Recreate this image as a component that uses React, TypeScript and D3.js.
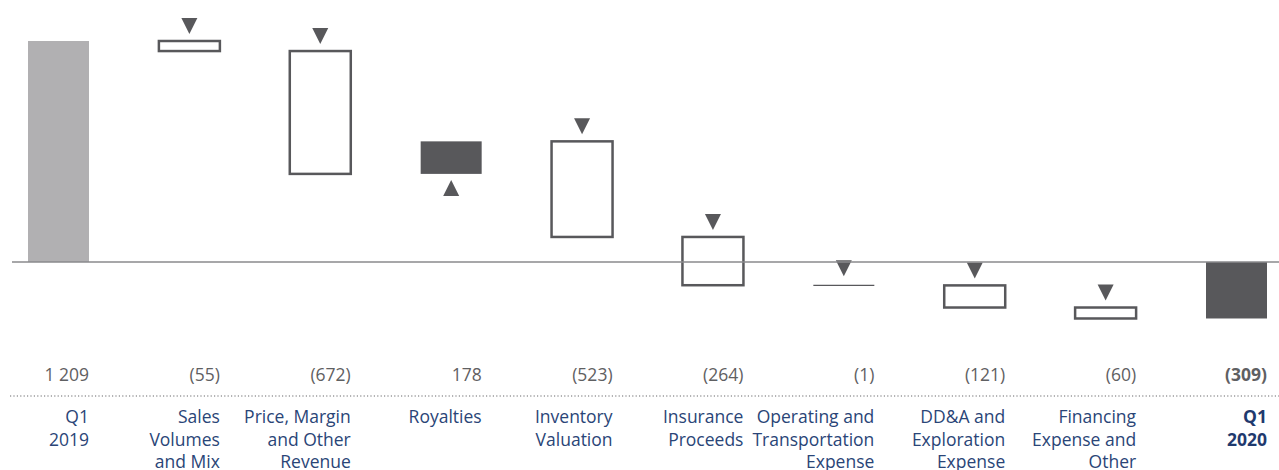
import React from "react";
import * as d3 from "d3";

const categories: string[][] = [
  ["Q1", "2019"],
  ["Sales", "Volumes", "and Mix"],
  ["Price, Margin", "and Other", "Revenue"],
  ["Royalties"],
  ["Inventory", "Valuation"],
  ["Insurance", "Proceeds"],
  ["Operating and", "Transportation", "Expense"],
  ["DD&A and", "Exploration", "Expense"],
  ["Financing", "Expense and", "Other"],
  ["Q1", "2020"],
];
const values: number[] = [1209, -55, -672, 178, -523, -264, -1, -121, -60, -309];
const valueLabels: string[] = ["1 209", "(55)", "(672)", "178", "(523)", "(264)", "(1)", "(121)", "(60)", "(309)"];
const kinds: string[] = ["start", "delta", "delta", "delta", "delta", "delta", "delta", "delta", "delta", "end"];

const W = 1279;
const H = 470;
const DARK = "#58585b";
const LIGHT = "#b1b0b2";
const BLUE = "#2a4577";
const GRAY_TXT = "#5f6062";
const FONT = "'Open Sans', 'Noto Sans', sans-serif";

export default function App() {
  const idx = categories.map((_, i) => String(i));
  const x = d3.scaleBand<string>().domain(idx).range([28, 1267]).paddingInner(0.534).paddingOuter(0);
  const y = d3.scaleLinear().domain([0, 1209]).range([262, 41]);
  const bw = x.bandwidth();

  let run = 0;
  const bars = values.map((v, i) => {
    let y0: number, y1: number;
    if (kinds[i] === "start" || kinds[i] === "end") {
      y0 = 0; y1 = v; run = v;
    } else {
      y0 = run; y1 = run + v; run = run + v;
    }
    return { i, v, y0, y1, kind: kinds[i] };
  });

  const tri = (cx: number, tipY: number, up: boolean) => {
    const h = 16, w = 16;
    if (up) {
      return `M${cx},${tipY} L${cx + w / 2},${tipY + h} L${cx - w / 2},${tipY + h} Z`;
    }
    return `M${cx - w / 2},${tipY - h} L${cx + w / 2},${tipY - h} L${cx},${tipY} Z`;
  };

  return (
    <svg width={W} height={H} style={{ position: "absolute", left: 0, top: 0, background: "#fff" }}>
      {bars.map((b) => {
        const bx = x(String(b.i))!;
        const cx = bx + bw / 2;
        const top = y(Math.max(b.y0, b.y1));
        const bot = y(Math.min(b.y0, b.y1));
        if (b.kind === "start") {
          return <rect key={b.i} x={bx} y={top} width={bw} height={bot - top} fill={LIGHT} />;
        }
        if (b.kind === "end") {
          return <rect key={b.i} x={bx} y={top} width={bw} height={bot - top} fill={DARK} />;
        }
        if (b.v > 0) {
          return (
            <g key={b.i}>
              <rect x={bx} y={top} width={bw} height={bot - top} fill={DARK} />
              <path d={tri(cx, bot + 6, true)} fill={DARK} />
            </g>
          );
        }
        if (bot - top < 3) {
          return (
            <g key={b.i}>
              <line x1={bx} x2={bx + bw} y1={(top + bot) / 2} y2={(top + bot) / 2} stroke={DARK} strokeWidth={1.2} />
              <path d={tri(cx, top - 9, false)} fill={DARK} />
            </g>
          );
        }
        return (
          <g key={b.i}>
            <rect x={bx} y={top} width={bw} height={bot - top} fill="#fff" stroke={DARK} strokeWidth={2.5} />
            <path d={tri(cx, top - 7, false)} fill={DARK} />
          </g>
        );
      })}
      <line x1={12} x2={W} y1={y(0)} y2={y(0)} stroke="#8a8a8c" strokeWidth={1.5} />
      {bars.map((b) => {
        const bx = x(String(b.i))!;
        const bold = b.kind === "end";
        return (
          <text
            key={"v" + b.i}
            x={bx + bw}
            y={381}
            textAnchor="end"
            fontFamily={FONT}
            fontSize={17.5}
            fontWeight={bold ? 700 : 400}
            fill={GRAY_TXT}
          >
            {valueLabels[b.i]}
          </text>
        );
      })}
      <line x1={10} x2={W} y1={396} y2={396} stroke="#9a9a9c" strokeWidth={1.5} strokeDasharray="1.2,2.2" />
      {categories.map((lines, i) => {
        const bx = x(String(i))!;
        const bold = kinds[i] === "end";
        return (
          <text
            key={"c" + i}
            textAnchor="end"
            fontFamily={FONT}
            fontSize={17.5}
            fontWeight={bold ? 700 : 400}
            fill={bold ? "#1f3a6e" : BLUE}
          >
            {lines.map((ln, j) => (
              <tspan key={j} x={bx + bw} y={423 + j * 22.5}>
                {ln}
              </tspan>
            ))}
          </text>
        );
      })}
    </svg>
  );
}
